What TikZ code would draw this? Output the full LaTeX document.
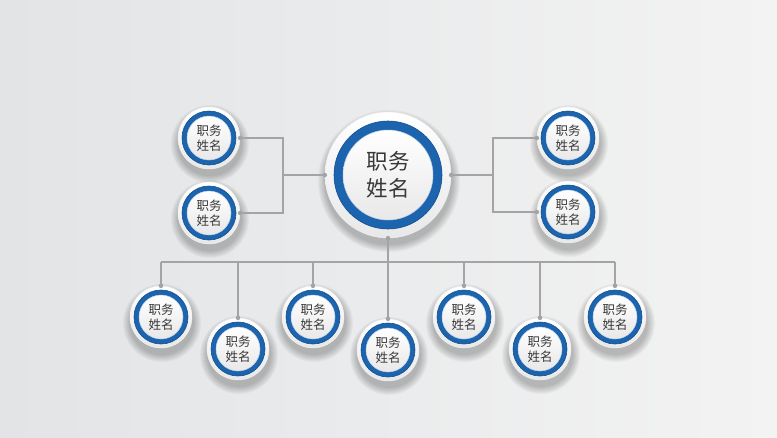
\documentclass[tikz,border=0pt]{standalone}
\usepackage{fontspec}
\newfontfamily\cjk{Noto Sans CJK SC}
\definecolor{bgL}{HTML}{E2E4E6}
\definecolor{bgR}{HTML}{F3F3F3}
\definecolor{ringblue}{HTML}{1C64AE}
\definecolor{ringdark}{HTML}{14508F}
\definecolor{linegray}{HTML}{A4A4A4}
\definecolor{txtgray}{HTML}{383838}
\tikzset{
  conn/.style={draw=linegray, line width=1.3pt},
  jdot/.style={fill=linegray},
  orgouter/.style={circle, inner sep=0pt, top color=white, bottom color=black!9, draw=black!6, line width=0.4pt},
  smalltext/.style={font=\cjk\fontsize{12.5}{15}\selectfont, text=txtgray, align=center},
  bigtext/.style={font=\cjk\fontsize{21.5}{27}\selectfont, text=txtgray, align=center},
}
% name, x, y, outer radius (pt), blue outer, blue inner, text style
\newcommand\orgnode[7]{%
  \foreach \k in {1,...,9}{%
    \fill[black, opacity=0.028] (#2+1,#3+6) circle ({#4pt+\k*0.9pt});
  }
  \node[orgouter, minimum size=2*#4pt] (#1) at (#2,#3) {};
  \fill[ringblue, draw=ringdark, line width=0.6pt] (#1.center) circle (#5pt);
  \shade[top color=white, bottom color=black!9, draw=white!70!ringblue, line width=0.5pt] (#1.center) circle (#6pt);
  \node[#7] at (#1.center) {职务\\姓名};
}
\begin{document}
\begin{tikzpicture}[x=1pt, y=-1pt]
\useasboundingbox (0,0) rectangle (777,437);
\shade[left color=bgL, right color=bgR] (0,0) rectangle (777,437);

% nodes
\orgnode{C}{388}{175}{63}{54}{45}{bigtext}
\orgnode{L1}{209}{138}{31}{27}{22}{smalltext}
\orgnode{L2}{209}{213}{31}{27}{22}{smalltext}
\orgnode{R1}{568}{138}{31}{27}{22}{smalltext}
\orgnode{R2}{568}{212}{31}{27}{22}{smalltext}
\orgnode{B1}{161}{317}{31}{27}{22}{smalltext}
\orgnode{B2}{238}{349}{31}{27}{22}{smalltext}
\orgnode{B3}{313}{317}{31}{27}{22}{smalltext}
\orgnode{B4}{388}{350}{31}{27}{22}{smalltext}
\orgnode{B5}{464}{317}{31}{27}{22}{smalltext}
\orgnode{B6}{540}{349}{31}{27}{22}{smalltext}
\orgnode{B7}{615}{317}{31}{27}{22}{smalltext}

% junction coordinates
\coordinate (lj) at (283,175);
\coordinate (rj) at (493,175);
\coordinate (bus) at (388,262);

% left bracket
\draw[conn] (L1.east) -- (L1.east -| lj) -- (L2.east -| lj) -- (L2.east);
\draw[conn] (lj) -- (C.west);
% right bracket
\draw[conn] (R1.west) -- (R1.west -| rj) -- (R2.west -| rj) -- (R2.west);
\draw[conn] (rj) -- (C.east);
% bottom bus
\draw[conn] (C.south) -- (B4.north);
\draw[conn] (B1.north |- bus) -- (B7.north |- bus);
\foreach \n in {B1,B2,B3,B5,B6,B7}{
  \draw[conn] (\n.north |- bus) -- (\n.north);
}
% dots
\foreach \a in {L1.east,L2.east,R1.west,R2.west,C.west,C.east,C.south,B1.north,B2.north,B3.north,B4.north,B5.north,B6.north,B7.north}{
  \fill[jdot] (\a) circle (2.3pt);
}
\end{tikzpicture}
\end{document}
